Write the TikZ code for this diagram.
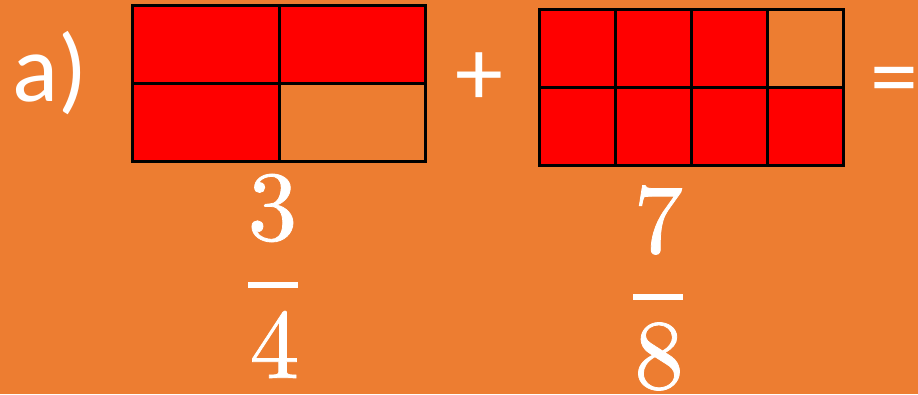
\documentclass[tikz,border=0pt]{standalone}
\usepackage{fontspec}
\newfontfamily\calib{Carlito}
\newfontfamily\digserif[FakeBold=0.8]{lmroman10-regular.otf}
\definecolor{bgorange}{HTML}{ED7D31}
\definecolor{cellred}{HTML}{FF0000}
\begin{document}
\begin{tikzpicture}[x=1pt,y=-1pt,
  cell/.style={draw=black,line width=3pt,inner sep=0pt,outer sep=0pt},
  filled/.style={cell,fill=cellred},
  empty/.style={cell,fill=bgorange},
  sanstext/.style={text=white,inner sep=0pt,font=\calib\fontsize{96}{110}\selectfont},
  digit/.style={text=white,inner sep=0pt,font=\digserif\fontsize{99}{110}\selectfont},
  fracbar/.style={fill=white,draw=none,inner sep=0pt,minimum width=50pt,minimum height=6pt}]
\fill[bgorange] (0,0) rectangle (918,394);
\useasboundingbox (0,0) rectangle (918,394);
% left box 3/4
\node[filled,minimum width=147pt,minimum height=78pt] (l11) at (205.5,44) {};
\node[filled,minimum width=146pt,minimum height=78pt] (l12) at (352,44) {};
\node[filled,minimum width=147pt,minimum height=78pt] (l21) at (205.5,122) {};
\node[empty,minimum width=146pt,minimum height=78pt] (l22) at (352,122) {};
% right box 7/8
\foreach \i/\x/\s in {1/577/filled,2/653/filled,3/729/filled,4/805/empty}{
  \node[\s,minimum width=76pt,minimum height=78pt] (r1\i) at (\x,48) {};
}
\foreach \i/\x in {1/577,2/653,3/729,4/805}{
  \node[filled,minimum width=76pt,minimum height=78pt] (r2\i) at (\x,126) {};
}
% texts
\node[sanstext] (lab) at (50,73.5) {a)};
\node[sanstext] (plus) at (479,79) {+};
\node[sanstext] (eq) at (894,88) {=};
% fractions
\node[digit] (n1) at (272.5,208) {3};
\node[fracbar] (b1) at (273,285) {};
\node[digit] (d1) at (274.5,344.5) {4};
\node[digit] (n2) at (658.5,220) {7};
\node[fracbar] (b2) at (658,297) {};
\node[digit] (d2) at (659,356.5) {8};
\end{tikzpicture}
\end{document}
